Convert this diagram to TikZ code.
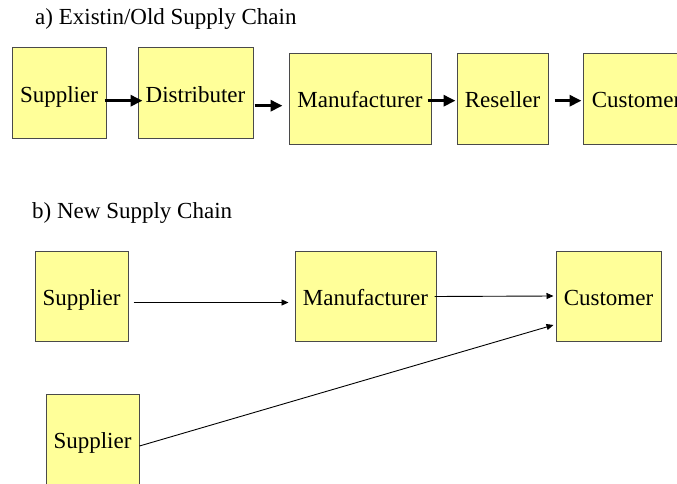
\documentclass[tikz,border=0pt]{standalone}
\usepackage{fontspec}
\setmainfont{Liberation Serif}
\usetikzlibrary{arrows.meta}
\definecolor{boxfill}{HTML}{FFFF99}
\definecolor{boxline}{HTML}{4A4A4A}
\begin{document}
\begin{tikzpicture}[x=1pt,y=-1pt,
  font=\fontsize{23}{27}\selectfont,
  chainbox/.style={draw=boxline,fill=boxfill,line width=1pt,inner sep=0pt,
    text height=18pt,text depth=0pt},
  thickflow/.style={line width=3pt,-{Triangle[length=12pt,width=11pt]}},
  thinflow/.style={line width=0.9pt,-{Triangle[length=7pt,width=6pt]}},
  heading/.style={anchor=base west,inner sep=0pt}]
  \useasboundingbox (0,0) rectangle (677,484);
  \clip (0,0) rectangle (677,484);
  \fill[white] (0,0) rectangle (677,484);

  % (a) old chain
  \node[heading] (ta) at (35,25) {a) Existin/Old Supply Chain};
  \node[chainbox,minimum width=94pt,minimum height=91pt] (s1) at (59,93.5) {Supplier};
  \node[chainbox,minimum width=115pt,minimum height=91pt] (d1) at (195.5,93.5) {Distributer};
  \node[chainbox,minimum width=142pt,minimum height=90pt] (m1) at (360,99) {Manufacturer};
  \node[chainbox,minimum width=91pt,minimum height=90pt] (r1) at (502.5,99) {Reseller};
  \node[chainbox,minimum width=107pt,minimum height=90pt] (c1) at (636.5,99) {Customer};

  \draw[thickflow] ([shift={(-2,7.2)}]s1.east) -- ([shift={(5,7.2)}]d1.west);
  \draw[thickflow] ([shift={(1,12.2)}]d1.east) -- ([shift={(-6,6.7)}]m1.west);
  \draw[thickflow] ([shift={(-4,1.7)}]m1.east) -- ([shift={(-1,1.7)}]r1.west);
  \draw[thickflow] ([shift={(6,1.7)}]r1.east) -- ([shift={(-1,1.7)}]c1.west);

  % (b) new chain
  \node[heading] (tb) at (32,218) {b) New Supply Chain};
  \node[chainbox,minimum width=93pt,minimum height=90pt] (s2) at (81.5,296) {Supplier};
  \node[chainbox,minimum width=141pt,minimum height=90pt] (m2) at (365.5,296) {Manufacturer};
  \node[chainbox,minimum width=105pt,minimum height=90pt] (c2) at (608.5,296) {Customer};
  \node[chainbox,minimum width=93pt,minimum height=90pt] (s3) at (92.5,439) {Supplier};

  \draw[thinflow] ([shift={(5,6.5)}]s2.east) -- ([shift={(-6,6.5)}]m2.west);
  \draw[thinflow] ([shift={(-2,0.5)}]m2.east) -- ([shift={(-2,0)}]c2.west);
  \draw[thinflow] ([shift={(0,7)}]s3.east) -- ([shift={(-2,29)}]c2.west);
\end{tikzpicture}
\end{document}
